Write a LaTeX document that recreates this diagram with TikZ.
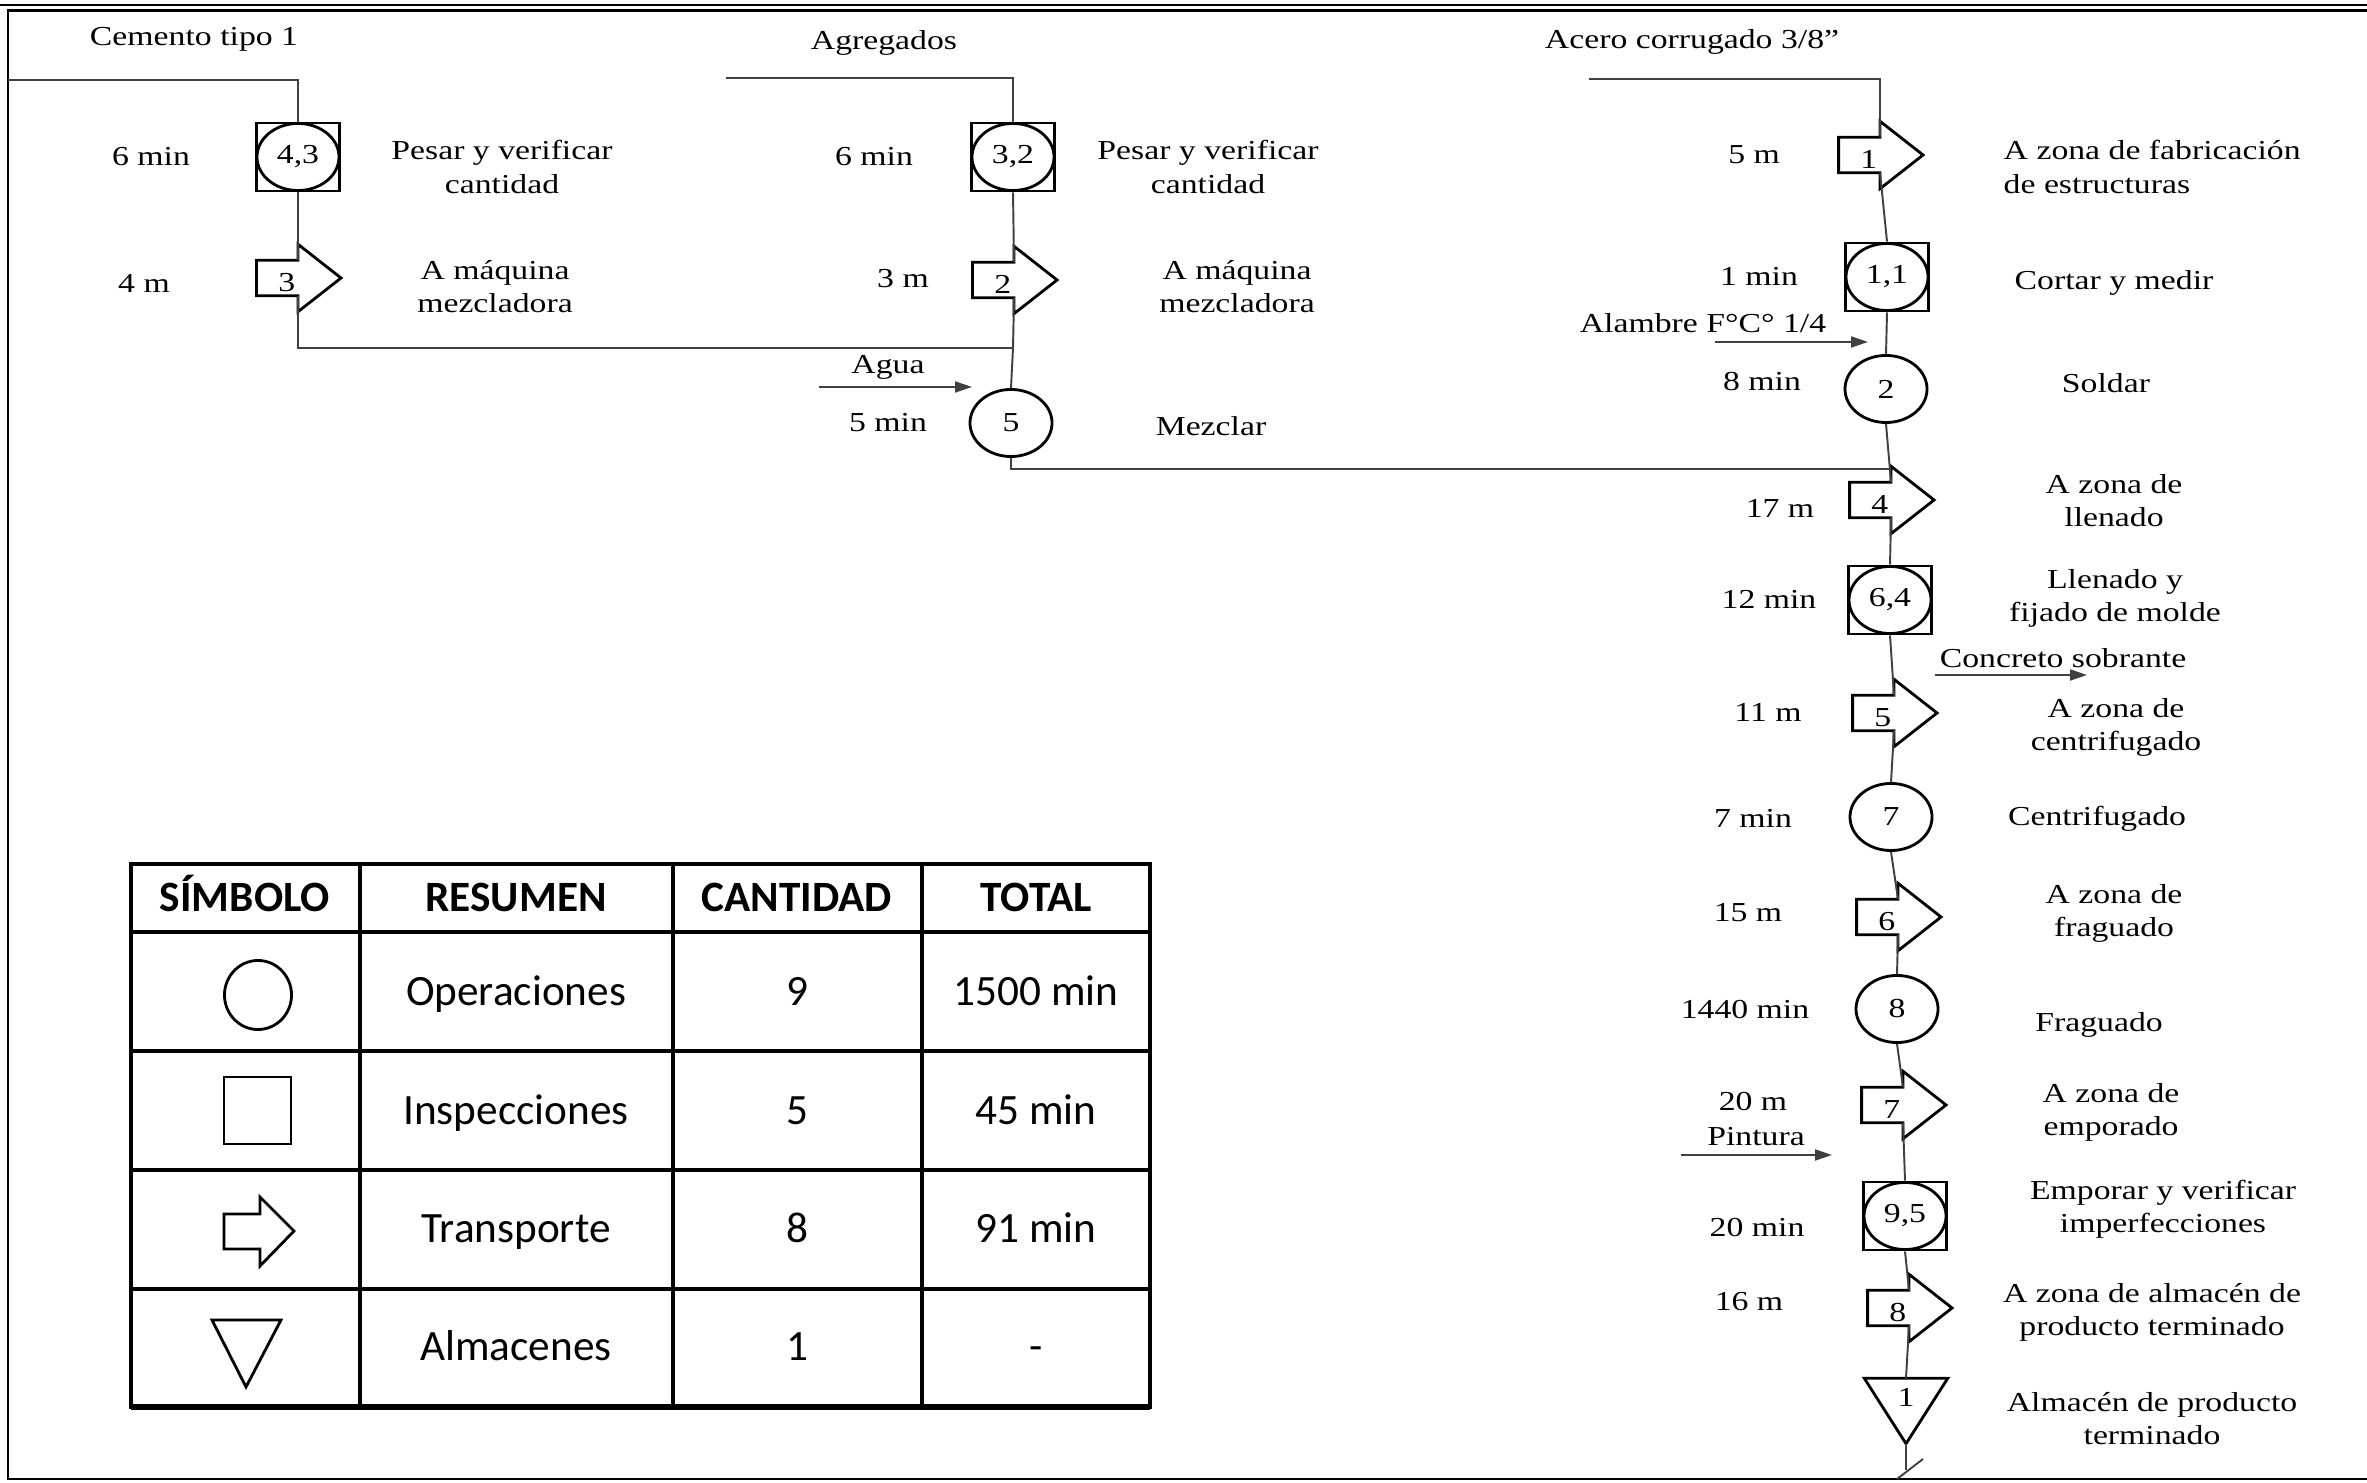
\documentclass[tikz,border=0pt]{standalone}
\usepackage{fontspec}
\setmainfont{Liberation Serif}
\newfontfamily\flowfont[FakeStretch=1.23]{Liberation Serif}
\newfontfamily\tabfont{Carlito}
\usetikzlibrary{shapes.geometric,arrows.meta}

\newcommand\fl{\flowfont\fontsize{7.8}{9.4}\selectfont}
% transport symbol: body node plus open head
\newcommand\transp[4]{%
  \node[tbody] (#1) at (#2,#3) {#4};
  \draw[symline] (#1.north east) -- (#1.north west) -- (#1.south west) -- (#1.south east)
    -- ([yshift=-0.16cm]#1.south east) -- ([xshift=0.43cm]#1.east)
    -- ([yshift=0.16cm]#1.north east) -- cycle;}

\begin{document}
\begin{tikzpicture}[x=0.01cm,y=-0.01cm,
  symline/.style={line width=0.8pt},
  line/.style={line width=0.55pt,black!75},
  inarrow/.style={line,-{Triangle[length=0.17cm,width=0.11cm]}},
  frame/.style={line width=0.8pt},
  lbl/.style={font=\fl,align=center,inner sep=0pt},
  op/.style={ellipse,draw,symline,inner sep=0pt,minimum width=0.82cm,minimum height=0.67cm,font=\fl},
  comb/.style={rectangle,draw,symline,inner sep=0pt,minimum width=0.83cm,minimum height=0.68cm,font=\fl,
    path picture={\draw[symline] (path picture bounding box.center) ellipse [x radius=0.41cm,y radius=0.335cm];}},
  tbody/.style={rectangle,inner sep=0pt,anchor=east,minimum width=0.40cm,minimum height=0.34cm,
    text width=0.36cm,align=right,text height=0.27cm,text depth=0cm,font=\fl},
  alm/.style={rectangle,inner sep=0pt,minimum width=0.82cm,minimum height=0.64cm,text depth=0.28cm,font=\fl},
  tab/.style={line width=0.9pt},
  th/.style={font=\tabfont\bfseries\fontsize{12.3}{14}\selectfont,inner sep=0pt,text height=7.9pt,text depth=0pt},
  td/.style={font=\tabfont\fontsize{12.3}{14}\selectfont,inner sep=0pt,text height=7.9pt,text depth=0pt}]
\useasboundingbox (0,0) rectangle (2367,1483);

% frame
\draw[frame] (0,5) -- (2367,5);
\draw[frame] (2367,10.5) -- (8,10.5) -- (8,1479) -- (2367,1479);

% column 1: cemento
\node[lbl] (cemento) at (194,39) {Cemento tipo 1};
\node[comb] (cb43) at (298,157) {4,3};
\transp{t3}{298}{278}{3}
\node[lbl] (tm-cb43) at (151,157) {6 min};
\node[lbl] (ds-cb43) at (502,167) {Pesar y verificar\\cantidad};
\node[lbl] (tm-t3) at (144,283) {4 m};
\node[lbl] (ds-t3) at (495,287) {A máquina\\mezcladora};

% column 2: agregados
\node[lbl] (agregados) at (884,43) {Agregados};
\node[comb] (cb32) at (1013,157) {3,2};
\transp{t2}{1014}{280}{2}
\node[op] (op5) at (1011,423) {5};
\node[lbl] (tm-cb32) at (874,157) {6 min};
\node[lbl] (ds-cb32) at (1208,167) {Pesar y verificar\\cantidad};
\node[lbl] (tm-t2) at (903,279) {3 m};
\node[lbl] (ds-t2) at (1237,287) {A máquina\\mezcladora};
\node[lbl] (agua) at (888,367) {Agua};
\node[lbl] (tm-op5) at (888,423) {5 min};
\node[lbl] (ds-op5) at (1211,426) {Mezclar};

% column 3: acero
\node[lbl] (acero) at (1692,42) {Acero corrugado 3/8”};
\transp{t1}{1880}{155}{1}
\node[comb] (cb11) at (1887,277) {1,1};
\node[op] (op2) at (1886,389) {2};
\transp{t4}{1891}{500}{4}
\node[comb] (cb64) at (1890,600) {6,4};
\transp{t5}{1894}{713}{5}
\node[op] (op7) at (1891,817) {7};
\transp{t6}{1898}{917}{6}
\node[op] (op8) at (1897,1009) {8};
\transp{t7}{1903}{1105}{7}
\node[comb] (cb95) at (1905,1216) {9,5};
\transp{t8}{1909}{1308}{8}
\node[alm] (alm1) at (1906,1411) {1};
\draw[symline] (alm1.north west) -- (alm1.north east) -- (alm1.south) -- cycle;

\node[lbl] (tm-t1) at (1754,155) {5 m};
\node[lbl,align=left,anchor=west] (ds-t1) at (2003,167) {A zona de fabricación\\de estructuras};
\node[lbl] (tm-cb11) at (1759,276) {1 min};
\node[lbl] (ds-cb11) at (2114,283) {Cortar y medir};
\node[lbl] (alambre) at (1703,323) {Alambre F°C° 1/4};
\node[lbl] (tm-op2) at (1762,382) {8 min};
\node[lbl] (ds-op2) at (2106,383) {Soldar};
\node[lbl] (tm-t4) at (1780,508) {17 m};
\node[lbl] (ds-t4) at (2114,501) {A zona de\\llenado};
\node[lbl] (tm-cb64) at (1769,599) {12 min};
\node[lbl] (ds-cb64) at (2115,598) {Llenado y\\fijado de molde};
\node[lbl] (concreto) at (2063,658) {Concreto sobrante};
\node[lbl] (tm-t5) at (1768,712) {11 m};
\node[lbl] (ds-t5) at (2116,727) {A zona de\\centrifugado};
\node[lbl] (tm-op7) at (1753,818) {7 min};
\node[lbl] (ds-op7) at (2097,819) {Centrifugado};
\node[lbl] (tm-t6) at (1748,913) {15 m};
\node[lbl] (ds-t6) at (2114,913) {A zona de\\fraguado};
\node[lbl] (tm-op8) at (1745,1010) {1440 min};
\node[lbl] (ds-op8) at (2099,1025) {Fraguado};
\node[lbl] (tm-t7) at (1753,1102) {20 m};
\node[lbl] (pintura) at (1756,1137) {Pintura};
\node[lbl] (ds-t7) at (2111,1112) {A zona de\\emporado};
\node[lbl] (tm-cb95) at (1757,1228) {20 min};
\node[lbl] (ds-cb95) at (2163,1209) {Emporar y verificar\\imperfecciones};
\node[lbl] (tm-t8) at (1749,1302) {16 m};
\node[lbl] (ds-t8) at (2152,1312) {A zona de almacén de\\producto terminado};
\node[lbl] (ds-alm1) at (2152,1419) {Almacén de producto\\terminado};

% flow lines
\coordinate (in1) at (8,80);
\coordinate (in2) at (726,78);
\coordinate (in3) at (1589,79);
\coordinate (j12) at (1013,348);
\coordinate (j23) at (1890,469);
\coordinate (fin) at (1906,1470);
\draw[line] (in1) -| (cb43.north);
\draw[line] (cb43.south) -- (t3.north east);
\draw[line] (t3.south east) |- (j12);
\draw[line] (in2) -| (cb32.north);
\draw[line] (cb32.south) -- (t2.north east);
\draw[line] (t2.south east) -- (j12) -- (op5.north);
\draw[line] (op5.south) |- (j23);
\draw[line] (in3) -| (t1.north east);
\draw[line] (t1.south east) -- (cb11.north);
\draw[line] (cb11.south) -- (op2.north);
\draw[line] (op2.south) -- (t4.north east);
\draw[line] (t4.south east) -- (cb64.north);
\draw[line] (cb64.south) -- (t5.north east);
\draw[line] (t5.south east) -- (op7.north);
\draw[line] (op7.south) -- (t6.north east);
\draw[line] (t6.south east) -- (op8.north);
\draw[line] (op8.south) -- (t7.north east);
\draw[line] (t7.south east) -- (cb95.north);
\draw[line] (cb95.south) -- (t8.north east);
\draw[line] (t8.south east) -- (alm1.north);
\draw[line] (alm1.south) -- (fin);
\draw[line] ([shift={(-9,9)}]fin) -- ([shift={(17,-11)}]fin);

% side inputs and outputs
\coordinate (agua-a) at (819,387);
\coordinate (agua-b) at (972,387);
\coordinate (alambre-a) at (1715,342);
\coordinate (alambre-b) at (1868,342);
\coordinate (concreto-a) at (1935,675);
\coordinate (concreto-b) at (2087,675);
\coordinate (pintura-a) at (1681,1155);
\coordinate (pintura-b) at (1832,1155);
\draw[inarrow] (agua-a) -- (agua-b);
\draw[inarrow] (alambre-a) -- (alambre-b);
\draw[inarrow] (concreto-a) -- (concreto-b);
\draw[inarrow] (pintura-a) -- (pintura-b);

% resumen table
\draw[tab] (131,864) rectangle (1150,1407);
\draw[tab] (360,864) -- (360,1407) (673,864) -- (673,1407) (922,864) -- (922,1407);
\draw[tab] (131,932) -- (1150,932) (131,1051) -- (1150,1051) (131,1170) -- (1150,1170) (131,1289) -- (1150,1289);
\draw[line width=1.6pt] (131,1407) -- (1150,1407);
\node[th] (h-sim) at (245,898) {SÍMBOLO};
\node[th] (h-res) at (516,898) {RESUMEN};
\node[th] (h-can) at (797,898) {CANTIDAD};
\node[th] (h-tot) at (1036,898) {TOTAL};
\draw[symline] (258,995) ellipse [x radius=0.335cm,y radius=0.345cm];
\draw[symline] (224,1077) rectangle (291,1144);
\draw[symline] (260,1214) -- (224,1214) -- (224,1249) -- (260,1249) -- (260,1266) -- (294,1231) -- (260,1197) -- cycle;
\draw[symline] (212,1320) -- (281,1320) -- (246,1387) -- cycle;
\node[td] (r-op) at (516,992) {Operaciones};
\node[td] (n-op) at (797,992) {9};
\node[td] (s-op) at (1036,992) {1500 min};
\node[td] (r-in) at (516,1111) {Inspecciones};
\node[td] (n-in) at (797,1111) {5};
\node[td] (s-in) at (1036,1111) {45 min};
\node[td] (r-tr) at (516,1229) {Transporte};
\node[td] (n-tr) at (797,1229) {8};
\node[td] (s-tr) at (1036,1229) {91 min};
\node[td] (r-al) at (516,1347) {Almacenes};
\node[td] (n-al) at (797,1347) {1};
\node[td] (s-al) at (1036,1347) {-};
\end{tikzpicture}
\end{document}
